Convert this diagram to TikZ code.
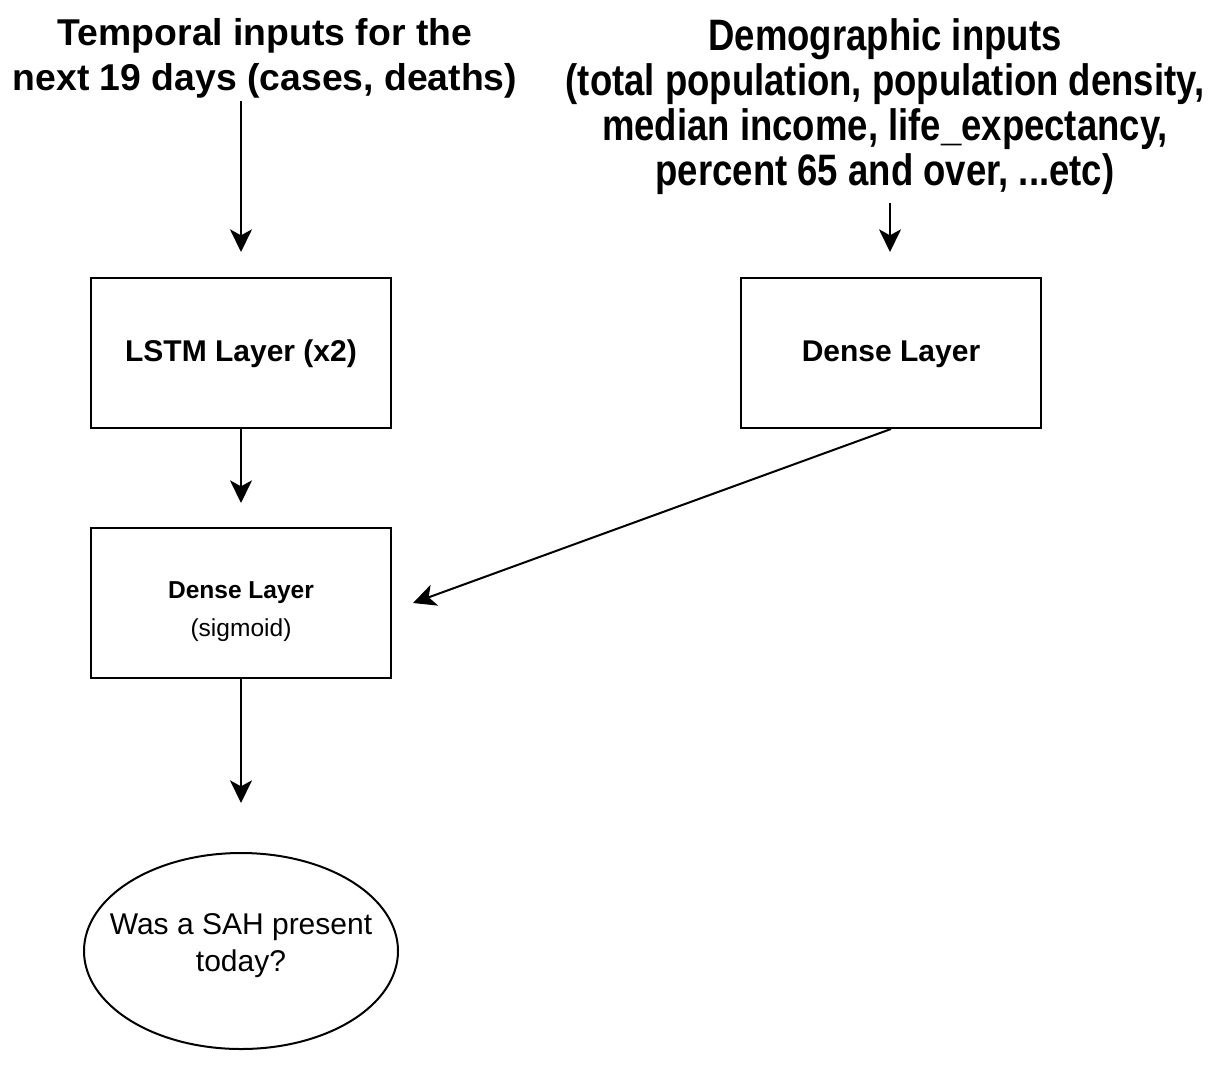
\documentclass[tikz,border=0pt]{standalone}
\usepackage{fontspec}
\setmainfont{Liberation Sans}
\newfontfamily\condfont[FakeStretch=0.83]{Liberation Sans}
\usetikzlibrary{arrows.meta,shapes.geometric}
\begin{document}
\begin{tikzpicture}[x=0.75pt,y=-0.75pt,
  box/.style={draw,line width=1.5pt,minimum width=225pt,minimum height=112.5pt,inner sep=0pt,align=center},
  arr/.style={line width=1.5pt,-{Stealth[length=17pt,width=16.5pt,inset=4.5pt]}},
  title/.style={align=center,inner sep=0pt,font=\bfseries\fontsize{28}{33.75}\selectfont}]
\path[use as bounding box] (0,0) rectangle (1225,1065);
\node[title] (t1) at (265,58) {Temporal inputs for the\\next 19 days (cases, deaths)};
\node[align=center,inner sep=0pt,font=\condfont\bfseries\fontsize{33}{33.75}\selectfont] (t2) at (885,107)
  {Demographic inputs\\(total population, population density,\\median income, life\_expectancy,\\percent 65 and over, ...etc)};
\node[box,font=\bfseries\fontsize{22.5}{27}\selectfont] (lstm) at (241,353) {\rule{0pt}{18pt}LSTM Layer (x2)};
\node[box,font=\bfseries\fontsize{22.5}{27}\selectfont] (dense1) at (891,353) {\rule{0pt}{18pt}Dense Layer};
\node[box,font=\fontsize{18.4}{28.5}\selectfont] (dense2) at (241,603) {\rule{0pt}{25pt}{\bfseries Dense Layer}\\(sigmoid)};
\node[draw,ellipse,line width=1.5pt,minimum width=235.5pt,minimum height=147pt,inner sep=0pt,align=center,
  font=\fontsize{22.5}{27.5}\selectfont] (out) at (241,951)
  {\makebox[0pt]{Was a SAH present}\\\makebox[0pt]{today?}\rule[-13pt]{0pt}{1pt}};
\coordinate (a1) at (241,252);
\coordinate (a2) at (890,252);
\coordinate (a3) at (241,503);
\coordinate (a4) at (241,803);
\coordinate (a5) at (413,603);
\draw[arr] ([yshift=-2pt]t1.south -| a1) -- (a1);
\draw[arr] ([yshift=-6pt]t2.south -| a2) -- (a2);
\draw[arr] (lstm.south) -- (a3);
\draw[arr] (dense2.south) -- (a4);
\draw[arr] (dense1.south) -- (a5);
\end{tikzpicture}
\end{document}
